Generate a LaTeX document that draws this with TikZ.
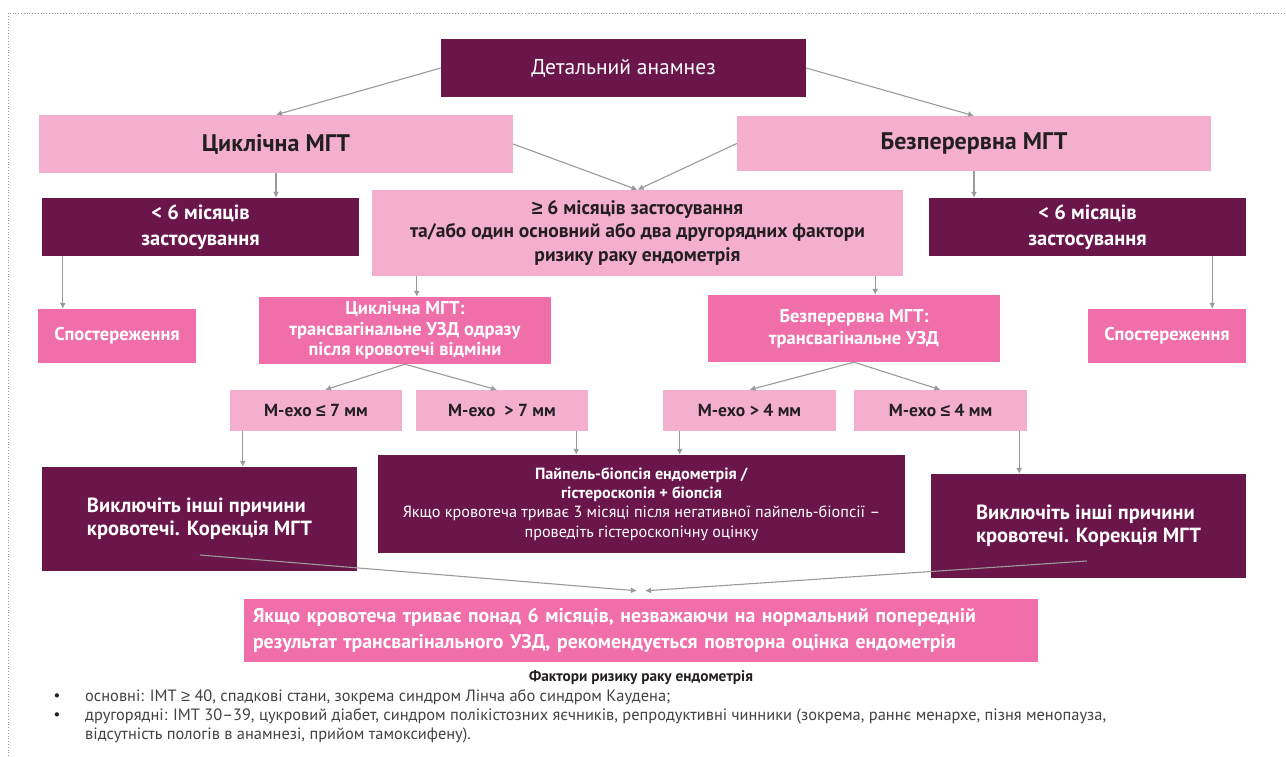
\documentclass[tikz,border=0pt]{standalone}
\usepackage{fontspec}
\setmainfont{PT Sans}
\newfontfamily\symf{Liberation Sans}
\newcommand\gesym{{\symf ≥}}
\newcommand\lesym{{\symf ≤}}
\usetikzlibrary{arrows.meta}

\definecolor{plum}{HTML}{6B164B}
\definecolor{rose}{HTML}{F4AFCF}
\definecolor{pinkmid}{HTML}{F06EA9}
\definecolor{ink}{HTML}{231F20}
\definecolor{arrgray}{HTML}{9A9A9A}

\begin{document}
\begin{tikzpicture}[x = 1pt, y = -1pt,
                dark/.style = {rectangle, fill = plum, text = white, inner sep = 0pt, align = center},
                light/.style = {rectangle, fill = rose, text = ink, inner sep = 0pt, align = center},
                mid/.style = {rectangle, fill = pinkmid, text = white, inner sep = 0pt, align = center},
                sz/.style 2 args = {minimum width = #1, minimum height = #2},
                arr/.style = {draw, arrgray, line width = 1.1pt, ->, >={Latex[length = 6pt, width = 6pt]}},
            ]
            \useasboundingbox (0, 0) rectangle (1286, 756);
            \draw[arrgray, dotted, line width = 0.8pt] (8, 756) -- (8, 13) -- (1286, 13);

            \node (DA) at (623.5, 68) [dark, sz = {365pt}{58pt}, font = \fontsize{21.5}{25}\selectfont] {Детальний анамнез};

            \node (CM) at (276, 144) [light, sz = {474pt}{58pt}, font = \fontsize{24}{28}\selectfont\bfseries] {Циклічна МГТ};
            \node (BM) at (974, 143.5) [light, sz = {474pt}{55pt}, font = \fontsize{24}{28}\selectfont\bfseries] {Безперервна МГТ};

            \node (L6) at (200.5, 227) [dark, sz = {317pt}{58pt}, font = \fontsize{20.5}{26}\selectfont\bfseries] {< 6 місяців\\ застосування};
            \node (G6) at (637.5, 233) [light, sz = {531pt}{86pt}, font = \fontsize{19.5}{23.5}\selectfont\bfseries] {\gesym{} 6 місяців застосування\\ та/або один основний або два другорядних фактори\\ ризику раку ендометрія};
            \node (R6) at (1087.5, 227) [dark, sz = {317pt}{58pt}, font = \fontsize{20.5}{26}\selectfont\bfseries] {< 6 місяців\\ застосування};

            \node (SL) at (117, 336) [mid, sz = {158pt}{54pt}, font = \fontsize{18.5}{22}\selectfont\bfseries] {Спостереження};
            \node (CU) at (405, 330.5) [mid, sz = {292pt}{67pt}, font = \fontsize{18.5}{20.5}\selectfont\bfseries] {Циклічна МГТ:\\ трансвагінальне УЗД одразу\\ після кровотечі відміни};
            \node (BU) at (854, 328.5) [mid, sz = {292pt}{67pt}, font = \fontsize{18.5}{22}\selectfont\bfseries] {Безперервна МГТ:\\ трансвагінальне УЗД};
            \node (SR) at (1167, 336) [mid, sz = {158pt}{54pt}, font = \fontsize{18.5}{22}\selectfont\bfseries] {Спостереження};

            \node (E7a) at (316, 410.5) [light, sz = {172pt}{41pt}, font = \fontsize{17.5}{20}\selectfont\bfseries] {М-ехо \lesym{} 7 мм};
            \node (E7b) at (502, 410.5) [light, sz = {172pt}{41pt}, font = \fontsize{17.5}{20}\selectfont\bfseries] {М-ехо~ > 7 мм};
            \node (E4a) at (749.5, 410.5) [light, sz = {173pt}{41pt}, font = \fontsize{17.5}{20}\selectfont\bfseries] {М-ехо > 4 мм};
            \node (E4b) at (940.5, 410.5) [light, sz = {173pt}{41pt}, font = \fontsize{17.5}{20}\selectfont\bfseries] {М-ехо \lesym{} 4 мм};

            \node (VL) at (199.5, 519) [dark, sz = {315pt}{104pt}, align = left, font = \fontsize{20.5}{23.5}\selectfont\bfseries] {Виключіть інші причини\\ кровотечі. Корекція МГТ};
            \node (PB) at (641.5, 504) [dark, sz = {527pt}{98pt}, font = \fontsize{16.2}{19.3}\selectfont] {\textbf{Пайпель-біопсія ендометрія /}\\ \textbf{гістероскопія + біопсія}\\ Якщо кровотеча триває 3 місяці після негативної пайпель-біопсії –\\ проведіть гістероскопічну оцінку};
            \node (VR) at (1088.5, 526) [dark, sz = {315pt}{104pt}, align = left, font = \fontsize{20.5}{23.5}\selectfont\bfseries] {Виключіть інші причини\\ кровотечі. Корекція МГТ};

            \node (RE) at (641, 630.5) [mid, minimum height = 63pt, text width = 776pt, inner xsep = 9pt, align = left, font = \fontsize{19.8}{26}\selectfont\bfseries] {Якщо кровотеча триває понад 6 місяців, незважаючи на нормальний попередній\\ результат трансвагінального УЗД, рекомендується повторна оцінка ендометрія};

            \node (FT) at (641, 678) [text = ink, font = \fontsize{15.3}{17}\selectfont\bfseries] {Фактори ризику раку ендометрія};
            \node (B1) at (57, 697) [text = ink, font = \fontsize{15}{19}\selectfont] {•};
            \node (B2) at (57, 716) [text = ink, font = \fontsize{15}{19}\selectfont] {•};
            \node (T1) at (85, 697) [anchor = west, inner sep = 0pt, text = ink!85, font = \fontsize{16.4}{19}\selectfont] {основні: ІМТ \gesym{} 40, спадкові стани, зокрема синдром Лінча або синдром Каудена;};
            \node (T2) at (85, 725.5) [anchor = west, inner sep = 0pt, align = left, text = ink!85, font = \fontsize{16.4}{19}\selectfont] {другорядні: ІМТ 30–39, цукровий діабет, синдром полікістозних яєчників, репродуктивні чинники (зокрема, раннє менархе, пізня менопауза,\\ відсутність пологів в анамнезі, прийом тамоксифену).};

            \coordinate (v1) at (200, 555);
            \coordinate (v2) at (1087, 561);

            \path[arr] (DA.west) -- (CM.north);
            \path[arr] (DA.east) -- (BM.north);
            \path[arr] (CM.south) -- (CM.south |- L6.north);
            \path[arr] (BM.south) -- (BM.south |- R6.north);
            \path[arr] (CM.east) -- (G6.north);
            \path[arr] (BM.west) -- (G6.north);
            \path[arr] ([xshift = 21pt]L6.south west) -- ([xshift = 21pt]L6.south west |- SL.north);
            \path[arr] ([xshift = -34pt]R6.south east) -- ([xshift = -34pt]R6.south east |- SR.north);
            \path[arr] ([xshift = 45pt]G6.south west) -- ([xshift = 45pt]G6.south west |- CU.north);
            \path[arr] ([xshift = -28pt]G6.south east) -- ([xshift = -28pt]G6.south east |- BU.north);
            \path[arr] (CU.south) -- ([xshift = 9pt]E7a.north);
            \path[arr] (CU.south) -- ([xshift = -5pt]E7b.north);
            \path[arr] (BU.south) -- (E4a.north);
            \path[arr] (BU.south) -- (E4b.north);
            \path[arr] ([xshift = 13pt]E7a.south west) -- ([xshift = 13pt]E7a.south west |- VL.north);
            \path[arr] ([xshift = -12pt]E7b.south east) -- ([xshift = -12pt]E7b.south east |- PB.north);
            \path[arr] ([xshift = 17pt]E4a.south west) -- ([xshift = 17pt]E4a.south west |- PB.north);
            \path[arr] ([xshift = -8pt]E4b.south east) -- ([xshift = -8pt]E4b.south east |- VR.north);
            \path[arr] (v1) -- ([xshift = -4pt, yshift = 8pt]RE.north);
            \path[arr] (v2) -- ([xshift = 4pt, yshift = 8pt]RE.north);
        \end{tikzpicture}
\end{document}
